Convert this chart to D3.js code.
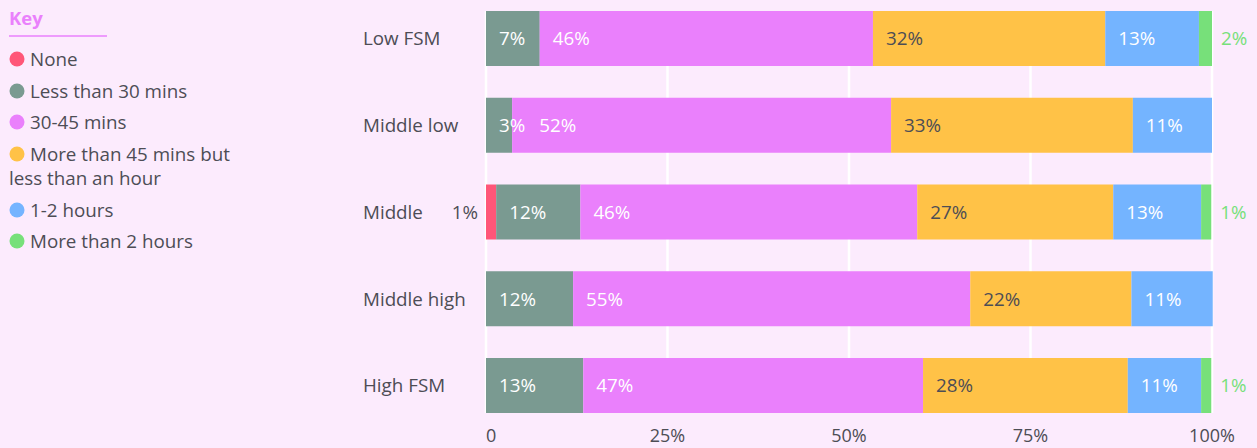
<!DOCTYPE html>
<html>
<head>
<meta charset="utf-8">
<script src="https://cdn.jsdelivr.net/npm/d3@7"></script>
<style>
	html, body { margin: 0; padding: 0; background: #fcebfd; }
	svg { display: block; font-family: "Open Sans", sans-serif; }
	.cat { fill: #4d4d55; font-size: 18.8px; }
	.tick-label { fill: #4d4d55; font-size: 18px; }
	.key-text { fill: #4d4d55; font-size: 18.8px; }
	.val { font-size: 18.8px; }
</style>
</head>
<body>
<svg id="chart"></svg>
<script>
var categories = ["Low FSM", "Middle low", "Middle", "Middle high", "High FSM"];
var series = ["None", "Less than 30 mins", "30-45 mins", "More than 45 mins but less than an hour", "1-2 hours", "More than 2 hours"];
var colors = ["#ff5678", "#7a9a91", "#ea80fc", "#ffc247", "#74b4ff", "#77e07a"];

// measured share of each bar (%)
var none      = [0,    0,    1.4,  0,    0];
var lessThan30 = [7.4,  3.6,  11.6, 12.0, 13.4];
var mins30to45 = [45.9, 52.2, 46.4, 54.7, 46.8];
var mins45to60 = [32.0, 33.3, 27.0, 22.2, 28.2];
var hours1to2  = [12.9, 10.9, 12.1, 11.2, 10.1];
var moreThan2  = [1.8,  0,    1.4,  0,    1.4];

// labels as printed on the bars
var labelsShown = [
	[null, 7, 46, 32, 13, 2],
	[null, 3, 52, 33, 11, null],
	[1, 12, 46, 27, 13, 1],
	[null, 12, 55, 22, 11, null],
	[null, 13, 47, 28, 11, 1]
];

var ticks = [0, 25, 50, 75, 100];
var tickLabels = ["0", "25%", "50%", "75%", "100%"];

var W = 1257, H = 448;
var svg = d3.select("#chart").attr("width", W).attr("height", H);

var columns = [none, lessThan30, mins30to45, mins45to60, hours1to2, moreThan2];
var rows = categories.map(function(c, i) {
	var r = {cat: c};
	series.forEach(function(s, j) { r[s] = columns[j][i]; });
	return r;
});

var stacked = d3.stack().keys(series)(rows);

var x = d3.scaleLinear().domain([0, 100]).range([486, 1212]);
var y = d3.scaleBand().domain(categories).range([11, 413]).paddingInner(0.366).paddingOuter(0);

/* Grid */
svg.append("g")
	.selectAll("line")
	.data(ticks)
	.enter().append("line")
	.attr("x1", function(d) { return x(d); })
	.attr("x2", function(d) { return x(d); })
	.attr("y1", y.range()[0])
	.attr("y2", y.range()[1])
	.attr("stroke", "#ffffff")
	.attr("stroke-width", 2.5);

/* Bars */
var layer = svg.append("g")
	.selectAll("g")
	.data(stacked)
	.enter().append("g")
	.attr("fill", function(d, i) { return colors[i]; });

layer.selectAll("rect")
	.data(function(d) { return d; })
	.enter().append("rect")
	.attr("x", function(d) { return x(d[0]); })
	.attr("width", function(d) { return x(d[1]) - x(d[0]); })
	.attr("y", function(d) { return y(d.data.cat); })
	.attr("height", y.bandwidth());

/* Value labels */
var valG = svg.append("g");
categories.forEach(function(c, i) {
	var prevEnd = -Infinity;
	var cy = y(c) + y.bandwidth() / 2;
	stacked.forEach(function(s, j) {
		var lab = labelsShown[i][j];
		if (lab === null) return;
		var x0 = x(s[i][0]), x1 = x(s[i][1]);
		var t = valG.append("text")
			.attr("class", "val")
			.attr("y", cy)
			.attr("dy", "0.36em")
			.text(lab + "%");
		if (x1 - x0 < 18) {
			if (j === 0) {
				t.attr("x", x0 - 8).attr("text-anchor", "end").attr("fill", "#4d4d55");
				prevEnd = x0 - 10;
			} else {
				t.attr("x", x1 + 9).attr("fill", colors[j]);
			}
		} else {
			var px = Math.max(x0 + 13, prevEnd + 14);
			t.attr("x", px).attr("fill", j === 3 ? "#4d4d55" : "#ffffff");
			prevEnd = px + t.node().getComputedTextLength();
		}
	});
});

/* Category labels */
svg.append("g")
	.selectAll("text")
	.data(categories)
	.enter().append("text")
	.attr("class", "cat")
	.attr("x", 363)
	.attr("y", function(d) { return y(d) + y.bandwidth() / 2; })
	.attr("dy", "0.36em")
	.text(function(d) { return d; });

/* X axis labels */
svg.append("g")
	.selectAll("text")
	.data(ticks)
	.enter().append("text")
	.attr("class", "tick-label")
	.attr("x", function(d) { return x(d); })
	.attr("y", 442)
	.attr("text-anchor", function(d, i) { return i === 0 ? "start" : "middle"; })
	.text(function(d, i) { return tickLabels[i]; });

/* Key */
var key = svg.append("g");
key.append("text")
	.attr("x", 9)
	.attr("y", 25)
	.attr("fill", "#ea80fc")
	.attr("font-size", "18.5px")
	.attr("font-weight", "bold")
	.text("Key");
key.append("line")
	.attr("x1", 9).attr("x2", 107)
	.attr("y1", 36).attr("y2", 36)
	.attr("stroke", "#ea80fc")
	.attr("stroke-width", 1.5);

var keyY = [59, 91, 122, 154, 210, 241];
series.forEach(function(s, i) {
	key.append("circle")
		.attr("cx", 17)
		.attr("cy", keyY[i])
		.attr("r", 7.5)
		.attr("fill", colors[i]);
	var t = key.append("text")
		.attr("class", "key-text")
		.attr("x", 30)
		.attr("y", keyY[i])
		.attr("dy", "0.36em");
	if (i === 3) {
		t.append("tspan").text("More than 45 mins but");
		t.append("tspan").attr("x", 9).attr("dy", 24).text("less than an hour");
	} else {
		t.text(s);
	}
});
</script>
</body>
</html>
